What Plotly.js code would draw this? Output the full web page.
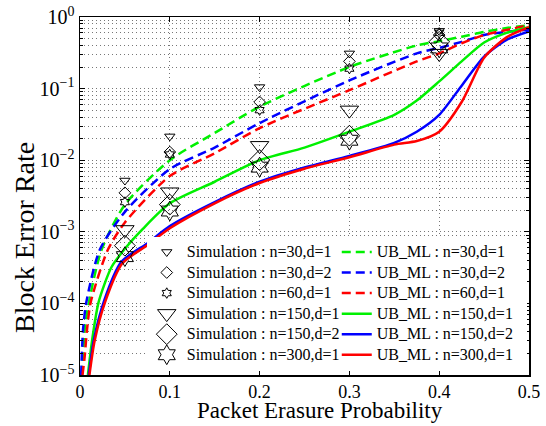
<!DOCTYPE html>
<html><head><meta charset="utf-8">
<script src="https://cdn.plot.ly/plotly-3.0.1.min.js"></script>
<style>html,body{margin:0;padding:0;background:#fff}</style>
</head><body><div id="chart" style="width:546px;height:426px"></div>
<script>
// ---- data ----
const pSim = [0.05, 0.1, 0.2, 0.3, 0.4];
const simN30D1  = [5.2e-3, 2.15e-2, 0.105, 0.31, 0.64];
const simN30D2  = [3.5e-3, 1.3e-2, 0.065, 0.24, 0.56];
const simN60D1  = [2.6e-3, 1.2e-2, 0.050, 0.19, 0.60];
const simN150D1 = [1.07e-3, 3.6e-3, 0.016, 0.050, 0.31];
const simN150D2 = [6.4e-4, 2.4e-3, 0.010, 0.022, 0.45];
const simN300D1 = [4.5e-4, 1.95e-3, 0.008, 0.019, 0.37];

const pUbN30D1 = [0.002, 0.0033, 0.0052, 0.010, 0.024, 0.05, 0.1, 0.15, 0.2, 0.3, 0.375, 0.4, 0.425, 0.45, 0.475, 0.5];
const ubN30D1  = [1.0e-5, 1.8e-5, 4.3e-5, 1.05e-4, 5.6e-4, 2.4e-3, 1.0e-2, 2.4e-2, 5.6e-2, 0.20, 0.40, 0.46, 0.53, 0.62, 0.70, 0.77];
const pUbN30D2 = [0.0013, 0.0034, 0.0071, 0.022, 0.05, 0.1, 0.15, 0.2, 0.3, 0.375, 0.4, 0.425, 0.45, 0.475, 0.5];
const ubN30D2  = [1.0e-5, 4.3e-5, 1.05e-4, 5.6e-4, 1.9e-3, 7.5e-3, 1.5e-2, 3.3e-2, 0.13, 0.31, 0.37, 0.45, 0.56, 0.62, 0.67];
const pUbN60D1 = [0.0028, 0.0052, 0.0078, 0.012, 0.031, 0.05, 0.1, 0.15, 0.2, 0.3, 0.375, 0.4, 0.425, 0.45, 0.475, 0.5];
const ubN60D1  = [1.0e-5, 1.8e-5, 4.3e-5, 1.05e-4, 5.6e-4, 1.35e-3, 6.0e-3, 1.25e-2, 2.8e-2, 0.095, 0.24, 0.31, 0.43, 0.56, 0.66, 0.77];

const pUbN150D1 = [0.0088, 0.0134, 0.0208, 0.035, 0.05, 0.07, 0.1, 0.15, 0.2, 0.25, 0.3, 0.35, 0.375, 0.4, 0.425, 0.45, 0.475, 0.5];
const ubN150D1  = [1.0e-5, 3.0e-5, 1.05e-4, 3.2e-4, 5.8e-4, 1.1e-3, 2.5e-3, 5.0e-3, 1.0e-2, 1.5e-2, 2.5e-2, 4.3e-2, 6.8e-2, 0.126, 0.24, 0.44, 0.60, 0.72];
const pUbN150D2 = [0.0098, 0.0155, 0.027, 0.046, 0.0757, 0.1, 0.15, 0.2, 0.25, 0.3, 0.35, 0.375, 0.4, 0.425, 0.45, 0.475, 0.5];
const ubN150D2  = [1.0e-5, 3.1e-5, 1.1e-4, 3.8e-4, 7.0e-4, 1.2e-3, 2.6e-3, 5.0e-3, 7.9e-3, 1.15e-2, 1.75e-2, 2.5e-2, 4.3e-2, 0.11, 0.28, 0.48, 0.63];
const pUbN300D1 = [0.0105, 0.0163, 0.028, 0.047, 0.0757, 0.1, 0.15, 0.2, 0.25, 0.3, 0.35, 0.375, 0.4, 0.425, 0.45, 0.475, 0.5];
const ubN300D1  = [1.0e-5, 3.0e-5, 1.05e-4, 3.6e-4, 6.6e-4, 1.12e-3, 2.5e-3, 4.8e-3, 7.6e-3, 1.1e-2, 1.65e-2, 1.85e-2, 2.5e-2, 6.5e-2, 0.27, 0.52, 0.72];

const xTickVals = [0, 0.1, 0.2, 0.3, 0.4, 0.5];
const xTickText = ['0', '0.1', '0.2', '0.3', '0.4', '0.5'];
const yTickVals = [1e-5, 1e-4, 1e-3, 1e-2, 1e-1, 1];
const yTickText = ['10<sup>\u22125</sup>', '10<sup>\u22124</sup>', '10<sup>\u22123</sup>', '10<sup>\u22122</sup>', '10<sup>\u22121</sup>', '10<sup>0</sup>'];

const simNames = ['Simulation : n=30,d=1', 'Simulation : n=30,d=2', 'Simulation : n=60,d=1',
                  'Simulation : n=150,d=1', 'Simulation : n=150,d=2', 'Simulation : n=300,d=1'];
const ubNames = ['UB_ML : n=30,d=1', 'UB_ML : n=30,d=2', 'UB_ML : n=60,d=1',
                 'UB_ML : n=150,d=1', 'UB_ML : n=150,d=2', 'UB_ML : n=300,d=1'];
const xTitle = 'Packet Erasure Probability';
const yTitle = 'Block Error Rate';

// ---- styles ----
const GREEN = '#00f000', BLUE = '#0000ff', RED = '#ff0000';
const DASH = '9px,5px';
const ubSets = [
  [pUbN30D1, ubN30D1, GREEN, DASH],
  [pUbN30D2, ubN30D2, BLUE, DASH],
  [pUbN60D1, ubN60D1, RED, DASH],
  [pUbN150D1, ubN150D1, GREEN, 'solid'],
  [pUbN150D2, ubN150D2, BLUE, 'solid'],
  [pUbN300D1, ubN300D1, RED, 'solid']
];
const simSets = [
  [simN30D1, 'triangle-down-open', 9],
  [simN30D2, 'diamond-open', 9],
  [simN60D1, 'hexagram-open', 8],
  [simN150D1, 'triangle-down-open', 16],
  [simN150D2, 'diamond-open', 16],
  [simN300D1, 'hexagram-open', 15]
];
const legendText = t => '<span style="font-size:16px">' + t + '</span>';

const traces = [];
ubSets.forEach((s, i) => {
  traces.push({
    x: s[0], y: s[1], type: 'scatter', mode: 'lines', name: legendText(ubNames[i]),
    line: {color: s[2], width: 2.5, dash: s[3], shape: 'spline', smoothing: 0.7},
    legendrank: 2 * i + 2
  });
});
simSets.forEach((s, i) => {
  traces.push({
    x: pSim, y: s[0], type: 'scatter', mode: 'markers', name: legendText(simNames[i]),
    marker: {symbol: s[1], size: s[2], color: '#000', line: {color: '#000', width: 1}},
    legendrank: 2 * i + 1
  });
});

const FONT = 'Liberation Serif, Times New Roman, serif';
const GRID = '#777';
const GDASH = '1px,3px';
const layout = {
  width: 546, height: 426,
  margin: {l: 80, r: 17, t: 17, b: 51},
  paper_bgcolor: '#fff', plot_bgcolor: '#fff',
  font: {family: FONT, color: '#000', size: 17},
  showlegend: true,
  legend: {
    orientation: 'h', entrywidth: 145, x: 0.995, xanchor: 'right', y: 0.012, yanchor: 'bottom',
    bgcolor: '#fff', borderwidth: 0, traceorder: 'normal',
    font: {family: FONT, size: 13.5, color: '#000'}
  },
  xaxis: {
    range: [0, 0.5], tickmode: 'array', tickvals: xTickVals, ticktext: xTickText,
    ticks: 'inside', ticklen: 5, tickcolor: '#000', mirror: 'allticks',
    showline: true, linecolor: '#000', linewidth: 1.5,
    showgrid: true, gridcolor: GRID, griddash: GDASH, gridwidth: 1,
    zeroline: false,
    tickfont: {family: FONT, size: 18}
  },
  yaxis: {
    type: 'log', range: [-5, 0], tickmode: 'array', tickvals: yTickVals, ticktext: yTickText,
    ticks: 'inside', ticklen: 5, tickcolor: '#000', mirror: 'allticks',
    showline: true, linecolor: '#000', linewidth: 1.5,
    showgrid: true, gridcolor: GRID, griddash: GDASH, gridwidth: 1,
    zeroline: false,
    minor: {dtick: 'D1', ticks: 'inside', ticklen: 3, tickcolor: '#000', showgrid: true, gridcolor: GRID, griddash: GDASH, gridwidth: 1},
    tickfont: {family: FONT, size: 20}
  },
  annotations: [
    {text: xTitle, xref: 'paper', yref: 'paper', x: 0.535, y: -0.141, xanchor: 'center', yanchor: 'bottom',
     showarrow: false, font: {family: FONT, size: 23, color: '#000'}},
    {text: yTitle, xref: 'paper', yref: 'paper', x: -0.125, y: 0.385, xanchor: 'center', yanchor: 'middle',
     textangle: -90, showarrow: false, font: {family: FONT, size: 28, color: '#000'}}
  ]
};

Plotly.newPlot('chart', traces, layout, {staticPlot: true});
</script>
</body></html>
